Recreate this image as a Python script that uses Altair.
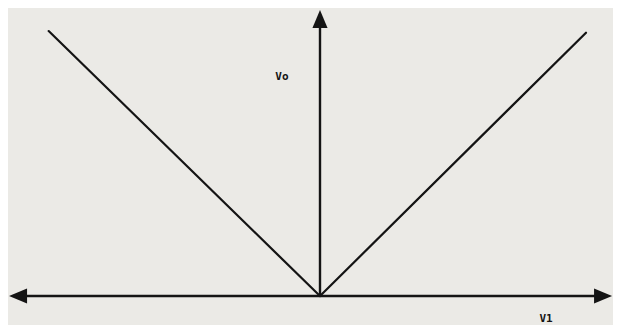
import altair as alt
import pandas as pd

# V-shaped transfer curve (Vo vs V1)
curve_v1 = [-10.2, 0.0, 10.0]
curve_vo = [9.96, 0.0, 9.9]

# axes lines
h_axis_v1 = [-11.45, 10.8]
h_axis_vo = [0.0, 0.0]
v_axis_v1 = [0.0, 0.0]
v_axis_vo = [0.0, 10.5]

# arrow tips
left_tip = (-11.69, 0.0)
right_tip = (10.98, 0.0)
up_tip = (0.0, 10.75)

# labels
label_text = ["Vo", "V1"]
label_v1 = [-1.43, 8.5]
label_vo = [8.23, -0.86]

PX = 26.6          # pixels per unit
W, H = 605, 317    # whole svg
OX, OY = 312, 288  # origin position inside svg

X_DOMAIN = [-OX / PX, (W - OX) / PX]
Y_DOMAIN = [-(H - OY) / PX, OY / PX]

xs = alt.Scale(domain=X_DOMAIN, nice=False, zero=False)
ys = alt.Scale(domain=Y_DOMAIN, nice=False, zero=False)

def X(field="x"):
    return alt.X(f"{field}:Q", scale=xs, axis=None)

def Y(field="y"):
    return alt.Y(f"{field}:Q", scale=ys, axis=None)

INK = "#141414"

curve_df = pd.DataFrame({"x": curve_v1, "y": curve_vo, "o": range(len(curve_v1))})
curve = alt.Chart(curve_df).mark_line(color=INK, strokeWidth=2.2, strokeCap="round").encode(
    x=X(), y=Y(), order="o:Q")

h_df = pd.DataFrame({"x": h_axis_v1, "y": h_axis_vo, "o": [0, 1]})
h_line = alt.Chart(h_df).mark_line(color=INK, strokeWidth=2.4).encode(x=X(), y=Y(), order="o:Q")

v_df = pd.DataFrame({"x": v_axis_v1, "y": v_axis_vo, "o": [0, 1]})
v_line = alt.Chart(v_df).mark_line(color=INK, strokeWidth=2.4).encode(x=X(), y=Y(), order="o:Q")

def arrow(tip, shape):
    df = pd.DataFrame({"x": [tip[0]], "y": [tip[1]]})
    return alt.Chart(df).mark_point(filled=True, shape=shape, size=1296, color=INK, opacity=1).encode(
        x=X(), y=Y())

a_left = arrow(left_tip, "M0,0L1,-0.42L1,0.42Z")
a_right = arrow(right_tip, "M0,0L-1,-0.42L-1,0.42Z")
a_up = arrow(up_tip, "M0,0L-0.42,1L0.42,1Z")

lab_df = pd.DataFrame({"x": label_v1, "y": label_vo, "t": label_text})
labels = alt.Chart(lab_df).mark_text(
    font="DejaVu Sans Mono", fontSize=11, fontWeight="bold", color=INK, align="center", baseline="middle"
).encode(x=X(), y=Y(), text="t:N")

chart = alt.layer(curve, h_line, v_line, a_left, a_right, a_up, labels).properties(
    width=W, height=H,
    autosize=alt.AutoSizeParams(type="none"),
    padding=0,
    background="#ebeae6",
).configure_view(stroke=None)

chart.save("out.html", embed_options={"renderer": "svg", "actions": False})
